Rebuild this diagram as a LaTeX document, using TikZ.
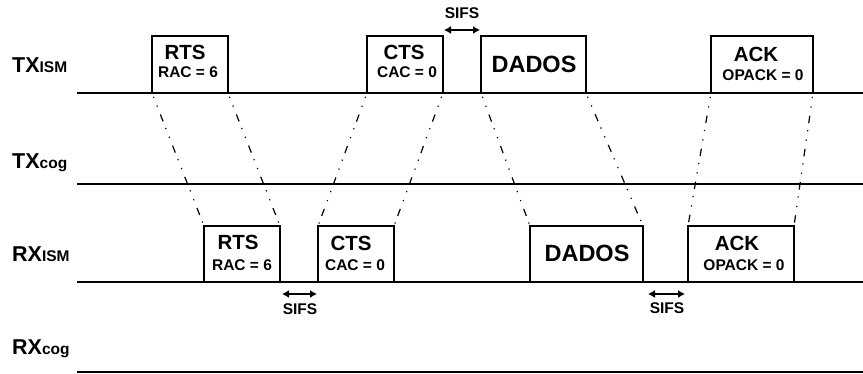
\documentclass[tikz,border=0pt]{standalone}
\usepackage{fontspec}
\setmainfont{Liberation Sans}
\usetikzlibrary{arrows.meta}
\begin{document}
\begin{tikzpicture}[x=1pt,y=-1pt,
  lane/.style={line width=1.4pt},
  frame/.style={draw, line width=1.3pt, inner sep=0pt, outer sep=0pt, anchor=south west, minimum height=57pt},
  big/.style={font=\fontsize{20.5}{22}\selectfont\bfseries, inner sep=0pt, anchor=base},
  huge/.style={font=\fontsize{23.5}{25}\selectfont\bfseries, inner sep=0pt, anchor=base},
  small/.style={font=\fontsize{15.5}{17}\selectfont\bfseries, inner sep=0pt, anchor=base},
  lanelabel/.style={font=\fontsize{21.5}{23}\selectfont\bfseries, inner sep=0pt, anchor=base west},
  dd/.style={line width=1.2pt, dash pattern=on 7.5pt off 7pt on 1.2pt off 8.3pt on 1.2pt off 8.3pt, dash phase=10.5pt},
  sifs/.style={line width=1.3pt, {Latex[length=7pt,width=8pt]}-{Latex[length=7pt,width=8pt]}}
]
\useasboundingbox (0,0) rectangle (863,374);
% lanes
\coordinate (l1a) at (77,93);  \coordinate (l1b) at (863,93);
\coordinate (l2a) at (77,184); \coordinate (l2b) at (863,184);
\coordinate (l3a) at (77,282); \coordinate (l3b) at (863,282);
\coordinate (l4a) at (77,372); \coordinate (l4b) at (863,372);
\draw[lane] (l1a) -- (l1b);
\draw[lane] (l2a) -- (l2b);
\draw[lane] (l3a) -- (l3b);
\draw[lane] (l4a) -- (l4b);
% lane labels
\node[lanelabel] (lab1) at (12,73) {TX{\fontsize{15.5}{17}\selectfont ISM}};
\node[lanelabel] (lab2) at (12,169) {TX{\fontsize{15.5}{17}\selectfont cog}};
\node[lanelabel] (lab3) at (12,262) {RX{\fontsize{15.5}{17}\selectfont ISM}};
\node[lanelabel] (lab4) at (12,355) {RX{\fontsize{15.5}{17}\selectfont cog}};
% TX boxes
\node[frame, minimum width=76pt] (txrts) at (152,93) {};
\node[frame, minimum width=76pt] (txcts) at (367,93) {};
\node[frame, minimum width=105pt] (txdat) at (481,93) {};
\node[frame, minimum width=102pt] (txack) at (711,93) {};
% RX boxes
\node[frame, minimum width=76pt, minimum height=56pt] (rxrts) at (204,282) {};
\node[frame, minimum width=76pt, minimum height=56pt] (rxcts) at (318,282) {};
\node[frame, minimum width=113pt, minimum height=56pt] (rxdat) at (530,282) {};
\node[frame, minimum width=106pt, minimum height=56pt] (rxack) at (688,282) {};
% TX texts
\node[big] (t1) at (185,60) {RTS};
\node[small] (t2) at (188,78) {RAC = 6};
\node[big] (t3) at (404,60) {CTS};
\node[small] (t4) at (407,78) {CAC = 0};
\node[huge] (t5) at (534,73) {DADOS};
\node[big] (t6) at (756,62) {ACK};
\node[small] (t7) at (763,81) {OPACK = 0};
% RX texts
\node[big] (r1) at (238,250) {RTS};
\node[small] (r2) at (242,271) {RAC = 6};
\node[big] (r3) at (351,251) {CTS};
\node[small] (r4) at (355,271) {CAC = 0};
\node[huge] (r5) at (587,262) {DADOS};
\node[big] (r6) at (737,251) {ACK};
\node[small] (r7) at (744,271) {OPACK = 0};
% connectors
\draw[dd] (txrts.south west) -- (rxrts.north west);
\draw[dd] (txrts.south east) -- (rxrts.north east);
\draw[dd] (txcts.south west) -- (rxcts.north west);
\draw[dd] (txcts.south east) -- (rxcts.north east);
\draw[dd] (txdat.south west) -- (rxdat.north west);
\draw[dd] (txdat.south east) -- (rxdat.north east);
\draw[dd] (txack.south west) -- (rxack.north west);
\draw[dd] (txack.south east) -- (rxack.north east);
% SIFS
\coordinate (s1a) at (444,30); \coordinate (s1b) at (480,30);
\draw[sifs] (s1a) -- (s1b);
\node[small] (s1) at (462,19) {SIFS};
\coordinate (s2a) at (282,294); \coordinate (s2b) at (317,294);
\draw[sifs] (s2a) -- (s2b);
\node[small] (s2) at (300,315) {SIFS};
\coordinate (s3a) at (648,294); \coordinate (s3b) at (685,294);
\draw[sifs] (s3a) -- (s3b);
\node[small] (s3) at (667,314) {SIFS};
\end{tikzpicture}
\end{document}
